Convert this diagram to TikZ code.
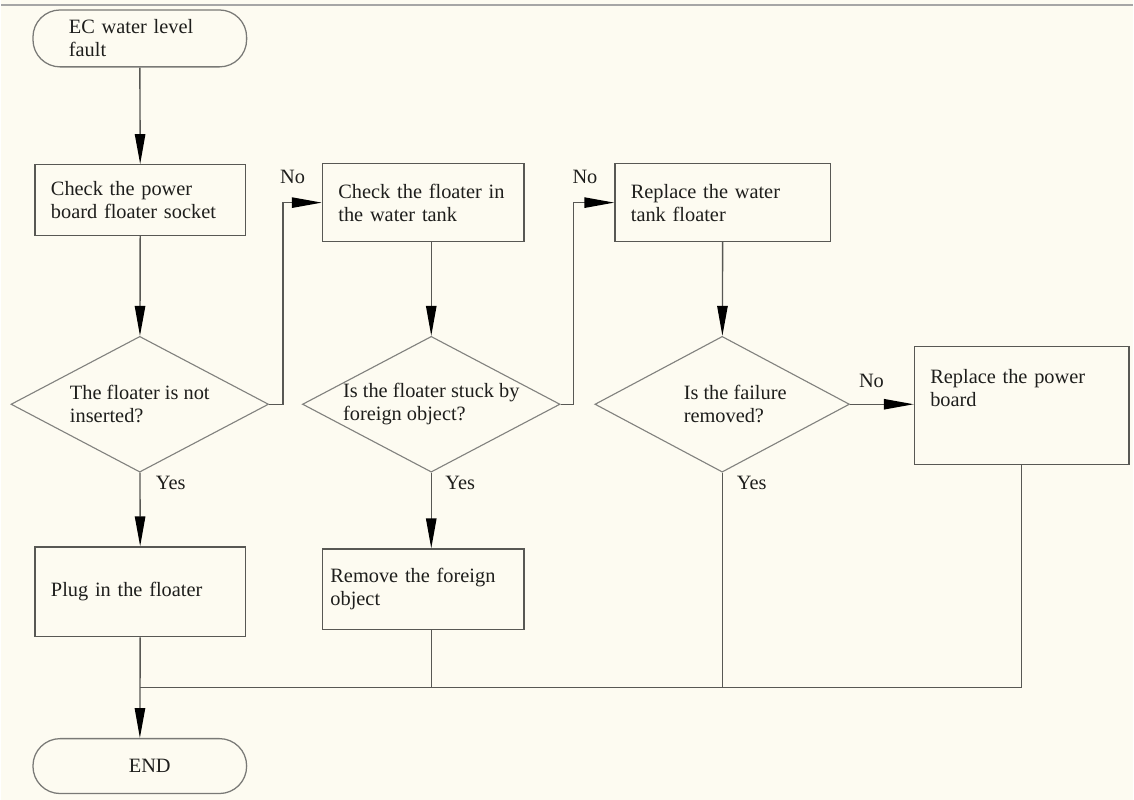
\documentclass[tikz,border=0pt]{standalone}
\usepackage{fontspec}
\setmainfont{Liberation Serif}
\usepackage{xcolor}
\definecolor{bgcream}{RGB}{253,251,241}
\definecolor{linegray}{RGB}{88,88,84}
\definecolor{txtgray}{RGB}{30,30,28}
\usetikzlibrary{
  arrows.meta,
  positioning,
  shapes.geometric,
  calc
}

\begin{document}
\begin{tikzpicture}[
    x=0.025cm, y=-0.025cm,
    font=\fontsize{14.5pt}{16.5pt}\selectfont,
    procbox/.style={
      rectangle, draw=linegray, line width=0.9pt, text=txtgray,
      align=left, inner xsep=0.4cm, inner ysep=0.15cm
    },
    termbox/.style={
      rectangle, rounded corners=0.68cm, draw=linegray!80, line width=0.9pt,
      text=txtgray, align=left, minimum width=5.35cm
    },
    decbox/.style={
      diamond, aspect=1.9, draw=linegray!75, line width=0.8pt, text=txtgray,
      align=left, inner sep=0pt, minimum height=3.4cm
    },
    lbl/.style={text=txtgray, inner sep=1pt},
    arr/.style={-{Triangle[length=0.75cm, width=0.26cm, color=black]}, linegray, line width=1pt},
    conn/.style={linegray, line width=1pt},
  ]
  %% --- page ---
  \fill[bgcream] (0,0) rectangle (1134,801);
  \draw[gray!70, line width=1.5pt] (0,5) -- (1134,5);

  %% --- left column ---
  \node[termbox, text width=3.55cm, inner xsep=0.9cm, minimum height=1.425cm] (start) at (139,38.5)
    {EC water level\\fault};
  \node[procbox, text width=4.475cm, minimum height=1.775cm] (b1) at (139.5,200.5)
    {Check the power\\board floater socket};
  \node[decbox, minimum width=6.45cm] (d1) at (139,405) {The floater is not\\inserted?};
  \node[procbox, text width=4.475cm, minimum height=2.25cm] (b5) at (139.5,593)
    {Plug in the floater};
  \node[termbox, minimum height=1.375cm, align=center] (end) at (139,767.5) {\hspace{0.5cm}END};

  %% --- middle column ---
  \node[procbox, text width=4.25cm, minimum height=1.95cm] (b2) at (423,203)
    {Check the floater in\\the water tank};
  \node[decbox, minimum width=6.45cm] (d2) at (431,405) {Is the floater stuck by\\foreign object?};
  \node[procbox, text width=4.65cm, inner xsep=0.2cm, minimum height=2.025cm] (b6) at (423,590.5)
    {Remove the foreign\\object};

  %% --- right column ---
  \node[procbox, text width=4.6cm, minimum height=1.95cm] (b3) at (723,203)
    {Replace the water\\tank floater};
  \node[decbox, minimum width=6.375cm] (d3) at (722.5,405)
    {\hspace*{0.65cm}Is the failure\\\hspace*{0.65cm}removed?};
  \node[procbox, text width=4.575cm, text depth=1.45cm, minimum height=2.95cm] (b4) at (1022.5,406)
    {Replace the power\\board};

  \coordinate (join) at (139,689);

  %% --- connectors ---
  \draw[arr] (start) -- (b1);
  \draw[arr] (b1) -- (d1);
  \draw[arr] (d1.east) -- ++(14,0) |- (b2.west);
  \draw[arr] (d1) -- (b5);
  \draw[arr] (d2.north |- b2.south) -- (d2.north);
  \draw[arr] (d2.east) -- ++(13,0) |- (b3.west);
  \draw[arr] (d2.south) -- (d2.south |- b6.north);
  \draw[arr] (b3) -- (d3);
  \draw[arr] (d3.east) -- (d3.east -| b4.west);

  \draw[conn] (d2.south |- b6.south) -- (d2.south |- join);
  \draw[conn] (d3.south) -- (d3.south |- join);
  \draw[conn] (b4.south) -- (b4.south |- join) -- (join);
  \draw[arr] (b5) -- (end);

  %% --- branch labels ---
  \node[lbl] (no1)  at (292,177) {No};
  \node[lbl] (no2)  at (585,177) {No};
  \node[lbl] (no3)  at (872,382) {No};
  \node[lbl] (yes1) at (170,484) {Yes};
  \node[lbl] (yes2) at (460,484) {Yes};
  \node[lbl] (yes3) at (752,484) {Yes};
\end{tikzpicture}
\end{document}
